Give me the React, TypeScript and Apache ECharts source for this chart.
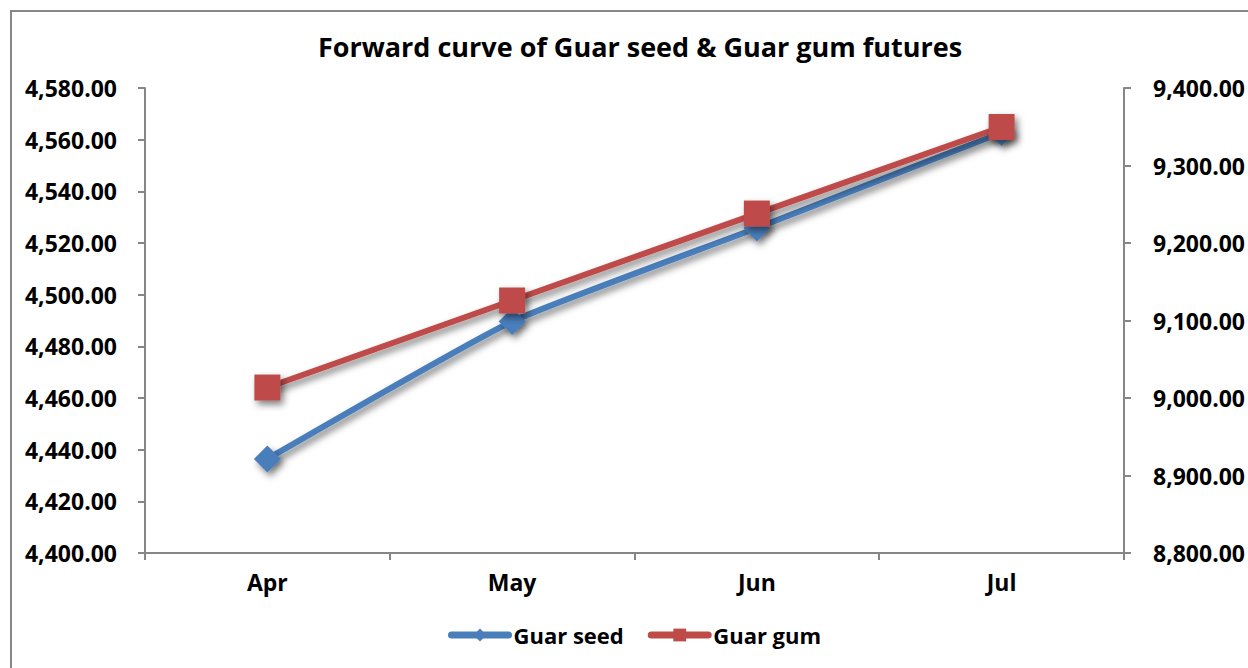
import React, { useEffect, useRef } from "react";
import * as echarts from "echarts";

const months = ["Apr", "May", "Jun", "Jul"];
const guarSeed = [4436.4, 4489.6, 4525.8, 4562.8];
const guarGum = [9013.5, 9125.8, 9238, 9349.7];
const leftTicks = { min: 4400, max: 4580, interval: 20 };
const rightTicks = { min: 8800, max: 9400, interval: 100 };

const FONT = "'Open Sans', 'Noto Sans', sans-serif";
const fmt = (v: number) =>
  v.toLocaleString("en-US", { minimumFractionDigits: 2, maximumFractionDigits: 2 });

export default function App() {
  const ref = useRef<HTMLDivElement>(null);
  useEffect(() => {
    if (!ref.current) return;
    const chart = echarts.init(ref.current, undefined, { renderer: "svg" });
    const axisColor = "#868686";
    const labelStyle = { color: "#000", fontFamily: FONT, fontWeight: "bold" as const, fontSize: 23 };
    const shadow = {
      shadowColor: "rgba(0,0,0,0.5)",
      shadowBlur: 7,
      shadowOffsetX: 3,
      shadowOffsetY: 4,
    };
    chart.setOption({
      animation: false,
      backgroundColor: "#fff",
      title: {
        text: "Forward curve of Guar seed & Guar gum futures",
        left: 635,
        top: 28,
        textAlign: "center",
        textStyle: { color: "#000", fontFamily: FONT, fontWeight: "bold", fontSize: 27 },
      },
      graphic: [
        {
          type: "rect",
          shape: { x: 11, y: 11, width: 1300, height: 700 },
          style: { fill: "none", stroke: "#878787", lineWidth: 2 },
          silent: true,
        },
      ],
      legend: {
        top: 619,
        left: 443,
        itemWidth: 57,
        itemHeight: 16,
        itemGap: 24,
        lineStyle: { width: 7, cap: "round" },
        textStyle: { ...labelStyle, fontSize: 22 },
        data: ["Guar seed", "Guar gum"],
      },
      grid: { left: 145, right: 124, top: 88, bottom: 115 },
      xAxis: {
        type: "category",
        data: months,
        boundaryGap: true,
        axisLine: { lineStyle: { color: axisColor, width: 2 } },
        axisTick: { show: true, length: 7, interval: 0, lineStyle: { color: axisColor, width: 2 } },
        axisLabel: { ...labelStyle, margin: 17 },
        splitLine: { show: false },
      },
      yAxis: [
        {
          type: "value",
          position: "left",
          ...leftTicks,
          axisLine: { show: true, lineStyle: { color: axisColor, width: 2 } },
          axisTick: { show: true, length: 7, lineStyle: { color: axisColor, width: 2 } },
          axisLabel: { ...labelStyle, margin: 28, formatter: fmt },
          splitLine: { show: false },
        },
        {
          type: "value",
          position: "right",
          ...rightTicks,
          axisLine: { show: true, lineStyle: { color: axisColor, width: 2 } },
          axisTick: { show: true, length: 7, lineStyle: { color: axisColor, width: 2 } },
          axisLabel: { ...labelStyle, margin: 29, formatter: fmt },
          splitLine: { show: false },
        },
      ],
      series: [
        {
          name: "Guar seed",
          type: "line",
          yAxisIndex: 0,
          data: guarSeed,
          smooth: 0.15,
          symbol: "diamond",
          symbolSize: 27,
          color: "#4a7ebb",
          lineStyle: { width: 6, color: "#4a7ebb", ...shadow },
          itemStyle: { color: "#4a7ebb", ...shadow },
        },
        {
          name: "Guar gum",
          type: "line",
          yAxisIndex: 1,
          data: guarGum,
          symbol: "rect",
          symbolSize: 26,
          color: "#be4b48",
          lineStyle: { width: 6, color: "#be4b48", ...shadow },
          itemStyle: { color: "#be4b48", ...shadow },
        },
      ],
    });
    return () => chart.dispose();
  }, []);
  return (
    <div
      ref={ref}
      style={{ position: "fixed", left: 0, top: 0, width: 1248, height: 668 }}
    />
  );
}
